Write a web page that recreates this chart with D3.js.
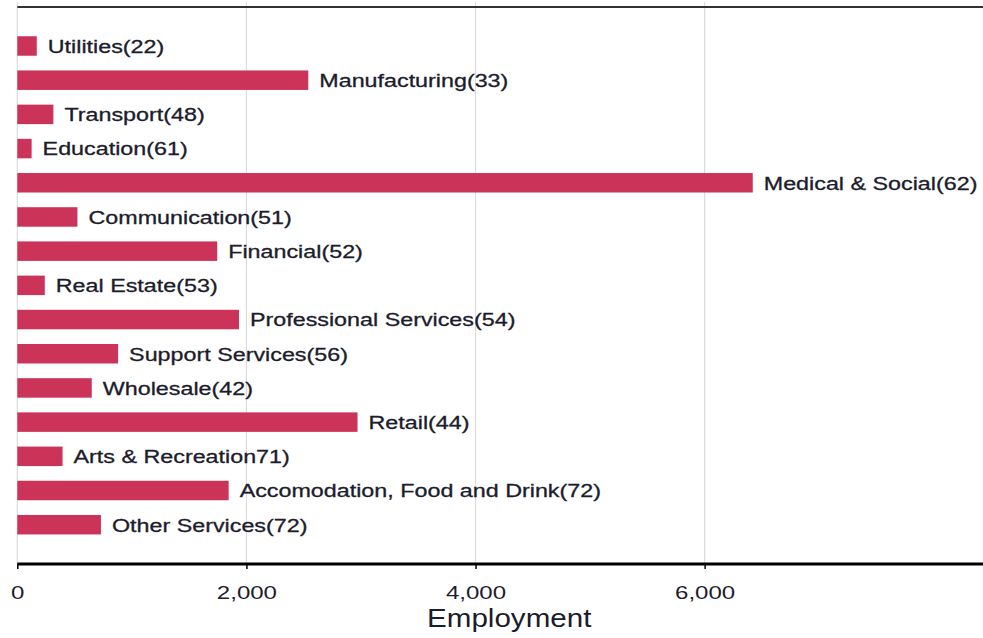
<!DOCTYPE html>
<html><head><meta charset="utf-8">
<script src="https://cdn.jsdelivr.net/npm/d3@7"></script>
<style>body{margin:0;background:#fff}svg{display:block}</style>
</head><body>
<svg id="c" width="983" height="638"></svg>
<script>
const categories = ["Utilities(22)","Manufacturing(33)","Transport(48)","Education(61)","Medical & Social(62)","Communication(51)","Financial(52)","Real Estate(53)","Professional Services(54)","Support Services(56)","Wholesale(42)","Retail(44)","Arts & Recreation71)","Accomodation, Food and Drink(72)","Other Services(72)"];
const values = [170,2540,315,125,6420,525,1745,240,1935,880,650,2970,395,1845,730];
const tickValues = [0,2000,4000,6000];
const axisTitle = "Employment";

const svg = d3.select("#c");
const font = "'Liberation Sans', Arial, sans-serif";
const x = d3.scaleLinear().domain([0, 8430]).range([17.3, 983]);
const y = d3.scaleBand().domain(categories).range([28.9, 541.8]).paddingInner(0.43).paddingOuter(0.215);
const axisY = 564;

// gridlines
svg.append("g").selectAll("line").data(tickValues).join("line")
  .attr("x1", d => x(d)).attr("x2", d => x(d))
  .attr("y1", 2).attr("y2", axisY)
  .attr("stroke", "#dcdcdc").attr("stroke-width", 1.2);

// top border line
svg.append("line").attr("x1", x(0)).attr("x2", 983).attr("y1", 7).attr("y2", 7)
  .attr("stroke", "#333").attr("stroke-width", 2);

// bars
svg.append("g").selectAll("rect").data(values).join("rect")
  .attr("x", x(0)).attr("y", (d,i) => y(categories[i]))
  .attr("width", d => x(d) - x(0)).attr("height", y.bandwidth())
  .attr("fill", "#cc3358");

// bar labels
svg.append("g").selectAll("text").data(values).join("text")
  .attr("transform", (d,i) => `translate(${x(d)+11},${y(categories[i]) + y.bandwidth()/2 + 6.8}) scale(1.26,1)`)
  .attr("font-family", font).attr("font-size", 18.5).attr("fill", "#1c1c2c")
  .attr("stroke", "#1c1c2c").attr("stroke-width", 0.3)
  .text((d,i) => categories[i]);

// bottom axis
const axis = d3.axisBottom(x).tickValues(tickValues).tickSize(5).tickFormat(d3.format(","));
const gA = svg.append("g").attr("transform", `translate(0,${axisY})`).call(axis);
gA.select(".domain").remove();
gA.append("line").attr("x1", x(0)).attr("x2", 983).attr("y1", 0).attr("y2", 0)
  .attr("stroke", "#000").attr("stroke-width", 3);
gA.selectAll(".tick line").attr("stroke", "#000").attr("stroke-width", 1.5);
gA.selectAll(".tick text")
  .attr("font-family", font).attr("font-size", 18.5).attr("fill", "#1c1c2c")
  .attr("y", 0).attr("dy", 0)
  .attr("transform", "translate(0,35) scale(1.3,1)");

svg.append("text")
  .attr("transform", `translate(${(426.7+591.7)/2},627) scale(1.16,1)`)
  .attr("text-anchor", "middle")
  .attr("font-family", font).attr("font-size", 25.5).attr("fill", "#1c1c2c")
  .text(axisTitle);
</script>
</body></html>
